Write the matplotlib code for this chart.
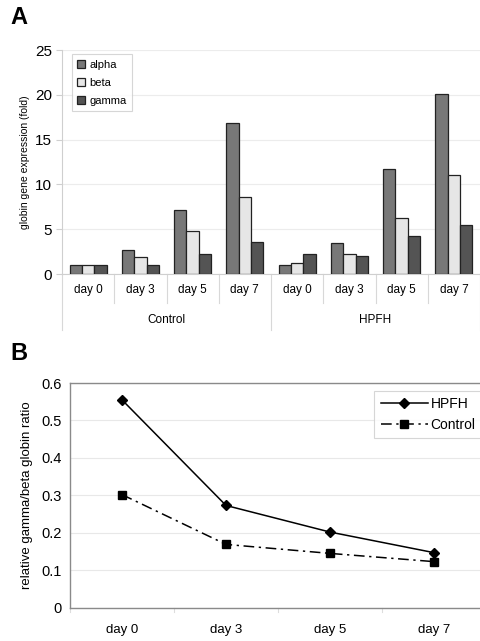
import matplotlib
matplotlib.use("Agg")
import matplotlib.pyplot as plt
import numpy as np

plt.rcParams['font.family'] = ['Liberation Sans', 'DejaVu Sans']

# Panel A data
days = ["day 0", "day 3", "day 5", "day 7"]
groups = ["Control", "HPFH"]
alpha = [1.0, 2.7, 7.1, 16.8, 1.0, 3.45, 11.7, 20.1]
beta = [1.0, 1.9, 4.85, 8.6, 1.25, 2.2, 6.2, 11.1]
gamma = [1.0, 1.0, 2.2, 3.55, 2.2, 2.0, 4.26, 5.48]
series_names = ["alpha", "beta", "gamma"]
series_colors = ["#787878", "#e6e6e6", "#545454"]
yticksA = [0, 5, 10, 15, 20, 25]

# Panel B data
daysB = ["day 0", "day 3", "day 5", "day 7"]
hpfh_ratio = [0.555, 0.273, 0.202, 0.147]
control_ratio = [0.302, 0.169, 0.145, 0.123]
yticksB = [0, 0.1, 0.2, 0.3, 0.4, 0.5, 0.6]

W, H = 480, 641
fig = plt.figure(figsize=(W / 100, H / 100), dpi=100)

# ---------- Panel A ----------
axA = fig.add_axes([62 / W, 1 - 274 / H, (480 - 62) / W, (274 - 50) / H])
n = len(alpha)
x = np.arange(n)
bw = 0.235
for i, (vals, name, col) in enumerate(zip([alpha, beta, gamma], series_names, series_colors)):
    axA.bar(x + (i - 1) * bw, vals, width=bw, color=col, edgecolor="#222222",
            linewidth=0.9, label=name, zorder=3)
axA.set_xlim(-0.5, n - 0.5)
axA.set_ylim(0, 25)
axA.set_yticks(yticksA)
axA.set_yticklabels([str(v) for v in yticksA], fontsize=11)
axA.yaxis.grid(True, color="#ececec", linewidth=0.8, zorder=0)
axA.set_axisbelow(True)
for s in ["top", "right"]:
    axA.spines[s].set_visible(False)
axA.spines["left"].set_color("#cfcfcf")
axA.spines["bottom"].set_color("#cfcfcf")
axA.tick_params(axis="y", length=4, color="#cfcfcf", pad=3)
axA.set_xticks([])
axA.set_ylabel("globin gene expression (fold)", fontsize=7.5, labelpad=4)

trans = axA.get_xaxis_transform()
day_labels = days * len(groups)
for i in range(n):
    axA.text(i, -0.07, day_labels[i], transform=trans, ha="center", va="center", fontsize=8.5)
# separators
for b in range(n + 1):
    xb = b - 0.5
    if b % 4 == 0:
        axA.plot([xb, xb], [0, -0.25], transform=trans, color="#d8d8d8", lw=0.8, clip_on=False)
    else:
        axA.plot([xb, xb], [0, -0.13], transform=trans, color="#d8d8d8", lw=0.8, clip_on=False)
for g, gname in enumerate(groups):
    axA.text(g * 4 + 1.5, -0.205, gname, transform=trans, ha="center", va="center", fontsize=8.5)

legA = axA.legend(loc="upper left", bbox_to_anchor=(0.01, 1.005), fontsize=8,
                  frameon=True, fancybox=False, edgecolor="#cccccc",
                  handlelength=0.7, handleheight=0.7, handletextpad=0.4,
                  labelspacing=0.7, borderpad=0.5)
legA.get_frame().set_linewidth(0.8)

fig.text(10 / W, 1 - 18 / H, "A", fontsize=17, fontweight="bold", va="center", ha="left")

# ---------- Panel B ----------
axB = fig.add_axes([70 / W, 1 - 607.7 / H, (486 - 70) / W, (607.7 - 383) / H])
xb = np.arange(len(daysB))
axB.plot(xb, hpfh_ratio, color="black", lw=1.1, marker="D", markersize=4.8, label="HPFH", zorder=3)
axB.plot(xb, control_ratio, color="black", lw=1.1, linestyle=(0, (7, 3, 1.5, 3)),
         marker="s", markersize=5.3, label="Control", zorder=3)
axB.set_xlim(-0.5, len(daysB) - 0.5)
axB.set_ylim(0, 0.6)
axB.set_yticks(yticksB)
axB.set_yticklabels(["0" if v == 0 else f"{v:g}" for v in yticksB], fontsize=10.5)
axB.set_xticks(xb)
axB.set_xticklabels(daysB, fontsize=9.5)
axB.tick_params(axis="x", length=0, pad=12)
axB.tick_params(axis="y", length=0, pad=6)
axB.yaxis.grid(True, color="#e8e8e8", linewidth=0.8, zorder=0)
axB.set_axisbelow(True)
axB.spines["right"].set_visible(False)
for s in ["top", "left", "bottom"]:
    axB.spines[s].set_color("#8a8a8a")
    axB.spines[s].set_linewidth(1.0)
for b in range(len(daysB) + 1):
    axB.plot([b - 0.5, b - 0.5], [0, -0.02], transform=axB.get_xaxis_transform(),
             color="#dddddd", lw=0.8, clip_on=False)
axB.set_ylabel("relative gamma/beta globin ratio", fontsize=9.5, labelpad=6)

legB = axB.legend(loc="upper right", bbox_to_anchor=(0.99, 0.965), borderaxespad=0,
                  fontsize=10, frameon=True, fancybox=False, edgecolor="#cccccc",
                  handlelength=3.4, handletextpad=0.2, labelspacing=0.5, borderpad=0.45)
legB.get_frame().set_linewidth(0.8)

fig.text(10 / W, 1 - 353 / H, "B", fontsize=17, fontweight="bold", va="center", ha="left")

fig.savefig("out.png", dpi=100)
